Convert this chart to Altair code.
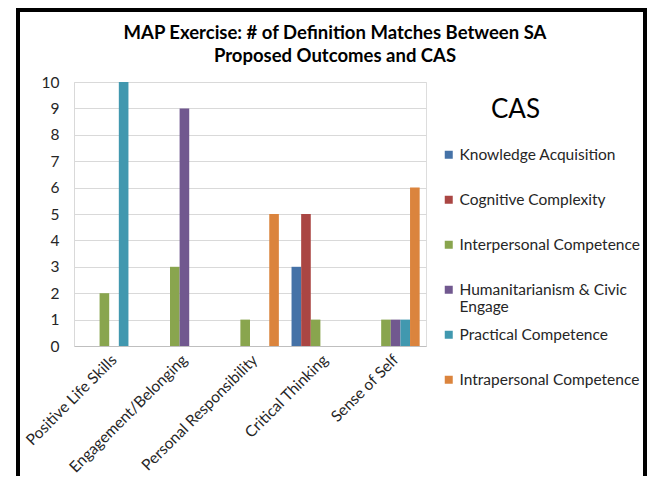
import altair as alt
import pandas as pd

categories = ["Positive Life Skills", "Engagement/Belonging", "Personal Responsibility",
              "Critical Thinking", "Sense of Self"]
series = ["Knowledge Acquisition", "Cognitive Complexity", "Interpersonal Competence",
          "Humanitarianism & Civic Engage", "Practical Competence", "Intrapersonal Competence"]
colors = ["#4572A7", "#AA4643", "#89A54E", "#71588F", "#4198AF", "#DB843D"]

knowledge = [0, 0, 0, 3, 0]
cognitive = [0, 0, 0, 5, 0]
interpersonal = [2, 3, 1, 1, 1]
humanitarian = [0, 9, 0, 0, 1]
practical = [10, 0, 0, 0, 1]
intrapersonal = [0, 0, 5, 0, 6]

values = [knowledge, cognitive, interpersonal, humanitarian, practical, intrapersonal]
rows = []
for s, vals in zip(series, values):
    for c, v in zip(categories, vals):
        rows.append({"category": c, "series": s, "value": v})
df = pd.DataFrame(rows)

FONT = "Lato"
TXT = "#262626"

bars = alt.Chart(df).mark_bar().encode(
    x=alt.X("category:N", sort=categories,
            scale=alt.Scale(paddingInner=0.18, paddingOuter=0.09),
            axis=alt.Axis(title=None, labelAngle=-45, labelFontSize=15.5, labelFont=FONT,
                          labelColor=TXT, ticks=False, labelPadding=6, domainColor="#bfbfbf",
                          labelLimit=300)),
    xOffset=alt.XOffset("series:N", sort=series,
                        scale=alt.Scale(paddingInner=0, paddingOuter=0)),
    y=alt.Y("value:Q", scale=alt.Scale(domain=[0, 10], nice=False),
            axis=alt.Axis(title=None, values=list(range(11)), labelFontSize=15.5, labelFont=FONT,
                          labelColor=TXT, ticks=False, labelPadding=15, gridColor="#d9d9d9",
                          domain=True, domainColor="#d9d9d9")),
    color=alt.Color("series:N", sort=series,
                    scale=alt.Scale(domain=series, range=colors),
                    legend=alt.Legend(
                        title="CAS", orient="none", legendX=367, legendY=15,
                        titleFontSize=26, titleFontWeight="normal", titleFont=FONT,
                        titleColor="#000000", titleAnchor="middle", titleAlign="right",
                        titlePadding=24, labelFontSize=15.5, labelFont=FONT, labelColor=TXT,
                        symbolType="square", symbolSize=64, symbolStrokeWidth=0,
                        rowPadding=11, gridAlign="all", labelOffset=3, padding=0, labelLimit=250,
                        labelExpr="datum.label == 'Humanitarianism & Civic Engage' ? ['Humanitarianism & Civic', 'Engage'] : datum.label")),
)

frame = alt.Chart(alt.Data(values=[{"a": 1}])).mark_rect(
    filled=False, stroke="#000000", strokeWidth=4, clip=False
).encode(
    x=alt.value(-56), x2=alt.value(571), y=alt.value(-72), y2=alt.value(420)
)

chart = alt.layer(bars, frame).properties(
    width=352, height=264,
    autosize=alt.AutoSizeParams(type="none"),
    padding={"left": 66, "top": 74, "right": 221, "bottom": 130},
    title=alt.Title(["MAP Exercise: # of Definition Matches Between SA", "Proposed Outcomes and CAS"],
                    fontSize=18.5, font=FONT, fontWeight="bold", color="#000000",
                    anchor="middle", frame="group", dx=85, offset=-57, lineHeight=23),
).configure_view(stroke=None).configure(background="white")

chart.save("out.html", embed_options={"renderer": "svg", "actions": False})
